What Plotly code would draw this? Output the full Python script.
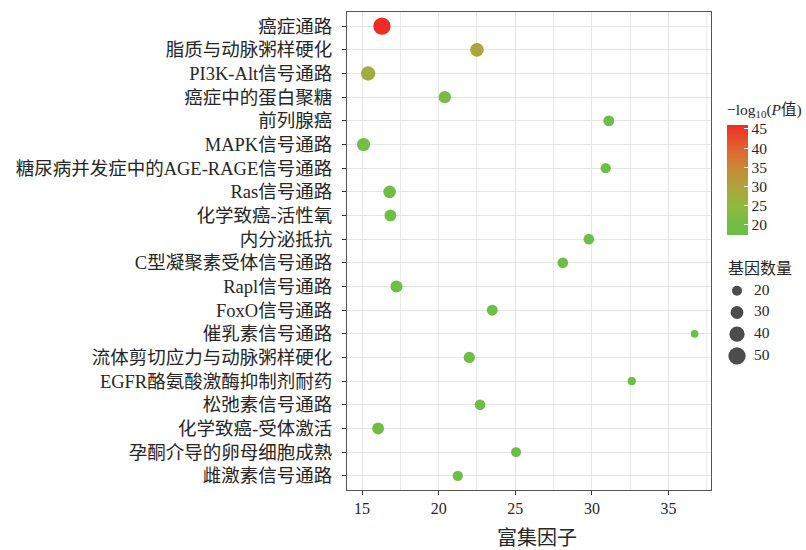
import plotly.graph_objects as go

# KEGG enrichment results
pathways = [
    "癌症通路", "脂质与动脉粥样硬化", "PI3K-Alt信号通路", "癌症中的蛋白聚糖",
    "前列腺癌", "MAPK信号通路", "糖尿病并发症中的AGE-RAGE信号通路", "Ras信号通路",
    "化学致癌-活性氧", "内分泌抵抗", "C型凝聚素受体信号通路", "Rapl信号通路",
    "FoxO信号通路", "催乳素信号通路", "流体剪切应力与动脉粥样硬化",
    "EGFR酪氨酸激酶抑制剂耐药", "松弛素信号通路", "化学致癌-受体激活",
    "孕酮介导的卵母细胞成熟", "雌激素信号通路",
]
enrichment = [16.3, 22.5, 15.4, 20.4, 31.1, 15.1, 30.9, 16.8, 16.85, 29.8,
              28.1, 17.25, 23.5, 36.7, 22.0, 32.6, 22.7, 16.05, 25.05, 21.25]
neg_log_p = [46.1, 29.2, 27.6, 21.0, 18.2, 19.6, 17.9, 18.8, 18.6, 17.7,
             17.6, 18.3, 17.9, 17.4, 18.0, 17.5, 17.8, 18.9, 17.5, 17.6]
gene_count = [50, 33, 36, 28, 23, 31, 21, 29, 26, 22,
              22, 27, 23, 14, 24, 15, 22, 26, 20, 21]

size_legend_values = [20, 30, 40, 50]
x_ticks = [15, 20, 25, 30, 35]
color_ticks = [20, 25, 30, 35, 40, 45]

FONT = "'Liberation Serif', 'Noto Sans CJK SC', serif"
TEXT_COLOR = "#262626"


def marker_px(n):
    # point area grows linearly with gene count
    return (6.6 * n - 32) ** 0.5


cmin, cmax = 17.4, 46.1
stops = [(17.4, "#6ABF45"), (20, "#71BE44"), (25, "#90B93E"), (30, "#AEA33A"),
         (35, "#C98836"), (40, "#E0632E"), (45, "#ED3827"), (46.1, "#EF2B25")]
colorscale = [[(v - cmin) / (cmax - cmin), c] for v, c in stops]

W_PAPER = 459
H_PAPER = 478

fig = go.Figure()

fig.add_trace(go.Scatter(
    x=enrichment, y=pathways, mode="markers",
    marker=dict(
        size=[marker_px(n) for n in gene_count], sizemode="diameter",
        color=neg_log_p, colorscale=colorscale, cmin=cmin, cmax=cmax,
        line=dict(width=0), opacity=1,
        colorbar=dict(
            title=dict(text="−log<sub>10</sub>(<i>P</i>值)", side="top",
                       font=dict(family=FONT, size=15.5, color=TEXT_COLOR)),
            x=(727 - 347) / W_PAPER, xanchor="left", xpad=0,
            y=(490 - 167.5) / H_PAPER, yanchor="middle", ypad=0,
            len=134, lenmode="pixels", thickness=21,
            tickvals=color_ticks, ticks="inside", ticklen=4,
            tickcolor="white", tickwidth=1, outlinewidth=0,
            tickfont=dict(family=FONT, size=15.5, color=TEXT_COLOR),
        ),
    ),
    showlegend=False, hoverinfo="x+y",
))

# gene-count size key
fig.add_trace(go.Scatter(
    x=[0] * len(size_legend_values), y=size_legend_values, mode="markers",
    marker=dict(size=[marker_px(n) for n in size_legend_values],
                sizemode="diameter", color="black", line=dict(width=0)),
    xaxis="x2", yaxis="y2", showlegend=False, hoverinfo="skip",
))
fig.add_trace(go.Scatter(
    x=[1.7] * len(size_legend_values), y=size_legend_values, mode="text",
    text=[str(v) for v in size_legend_values], textposition="middle right",
    textfont=dict(family=FONT, size=15.5, color=TEXT_COLOR),
    xaxis="x2", yaxis="y2", showlegend=False, hoverinfo="skip",
))

fig.update_layout(
    width=806, height=550,
    margin=dict(l=347, r=0, t=12, b=60),
    paper_bgcolor="white", plot_bgcolor="white",
    font=dict(family=FONT, color=TEXT_COLOR),
    xaxis=dict(
        domain=[0, (711 - 347) / W_PAPER], range=[14.02, 37.77],
        tickvals=x_ticks, ticks="outside", ticklen=4, tickcolor="#333333",
        tickfont=dict(family=FONT, size=16, color=TEXT_COLOR),
        showgrid=True, gridcolor="#E6E6E6", gridwidth=1.3,
        minor=dict(dtick=2.5, tick0=15, showgrid=True, gridcolor="#EBEBEB",
                   gridwidth=1),
        showline=True, mirror=True, linecolor="#555555", linewidth=1.2,
        zeroline=False,
    ),
    yaxis=dict(
        type="category", categoryorder="array", categoryarray=pathways,
        range=[19.6, -0.6],
        ticks="outside", ticklen=4, tickcolor="#333333",
        ticklabelstandoff=6,
        tickfont=dict(family=FONT, size=18.5, color=TEXT_COLOR),
        showgrid=True, gridcolor="#E6E6E6", gridwidth=1.3,
        showline=True, mirror=True, linecolor="#555555", linewidth=1.2,
    ),
    xaxis2=dict(domain=[(727 - 347) / W_PAPER, (805 - 347) / W_PAPER],
                range=[-1, 6.8], visible=False, anchor="y2"),
    yaxis2=dict(domain=[(490 - 366) / H_PAPER, (490 - 280) / H_PAPER],
                range=[54.6, 15.1], visible=False, anchor="x2"),
    annotations=[
        dict(text="基因数量", xref="paper", yref="paper",
             x=(726 - 347) / W_PAPER, y=(490 - 268) / H_PAPER,
             xanchor="left", yanchor="middle", showarrow=False,
             font=dict(family=FONT, size=16, color=TEXT_COLOR)),
        dict(text="富集因子", xref="paper", yref="paper",
             x=(537 - 347) / W_PAPER, y=(490 - 538) / H_PAPER,
             xanchor="center", yanchor="middle", showarrow=False,
             font=dict(family=FONT, size=20, color=TEXT_COLOR)),
    ],
)

fig.write_html("out.html")
